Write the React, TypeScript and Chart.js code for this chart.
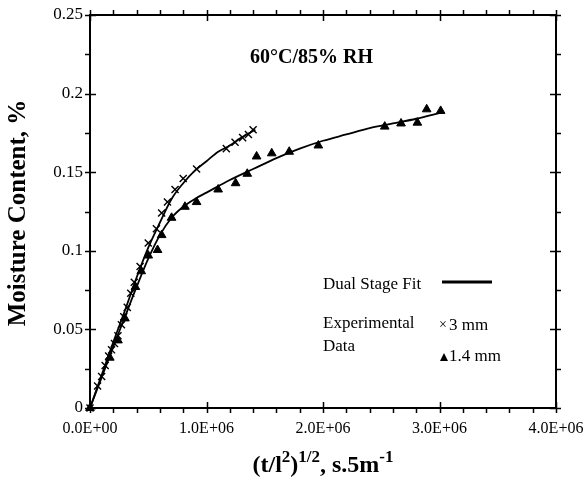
import React, { useEffect, useRef } from 'react';
import { Chart, registerables } from 'chart.js';

Chart.register(...registerables);

// ---- data ----
const xTickValues = [0, 1e6, 2e6, 3e6, 4e6];
const yTickValues = [0, 0.05, 0.1, 0.15, 0.2, 0.25];

const exp3mmX = [0, 0.065e6, 0.1e6, 0.13e6, 0.16e6, 0.185e6, 0.21e6, 0.24e6, 0.27e6, 0.29e6, 0.32e6, 0.35e6, 0.38e6, 0.43e6, 0.5e6, 0.57e6, 0.615e6, 0.665e6, 0.73e6, 0.8e6, 0.915e6, 1.17e6, 1.245e6, 1.31e6, 1.36e6, 1.4e6];
const exp3mmY = [0, 0.014, 0.02, 0.027, 0.033, 0.037, 0.041, 0.046, 0.053, 0.058, 0.064, 0.073, 0.08, 0.09, 0.105, 0.114, 0.124, 0.131, 0.139, 0.146, 0.152, 0.165, 0.169, 0.172, 0.174, 0.177];

const exp14mmX = [0, 0.17e6, 0.24e6, 0.3e6, 0.39e6, 0.44e6, 0.5e6, 0.58e6, 0.615e6, 0.7e6, 0.815e6, 0.915e6, 1.1e6, 1.25e6, 1.35e6, 1.43e6, 1.56e6, 1.71e6, 1.96e6, 2.53e6, 2.67e6, 2.81e6, 2.89e6, 3.01e6];
const exp14mmY = [0, 0.032, 0.043, 0.057, 0.077, 0.087, 0.097, 0.1005, 0.11, 0.121, 0.128, 0.131, 0.139, 0.143, 0.149, 0.16, 0.162, 0.163, 0.167, 0.179, 0.181, 0.1815, 0.19, 0.189];

const fit3mmX = [0, 0.1e6, 0.2e6, 0.3e6, 0.4e6, 0.5e6, 0.6e6, 0.7e6, 0.8e6, 0.9e6, 1.0e6, 1.1e6, 1.2e6, 1.3e6, 1.42e6];
const fit3mmY = [0, 0.021, 0.042, 0.062, 0.083, 0.102, 0.118, 0.133, 0.143, 0.151, 0.157, 0.163, 0.167, 0.172, 0.177];

const fit14mmX = [0, 0.1e6, 0.2e6, 0.3e6, 0.4e6, 0.5e6, 0.6e6, 0.7e6, 0.8e6, 0.9e6, 1.0e6, 1.2e6, 1.4e6, 1.6e6, 1.8e6, 2.0e6, 2.2e6, 2.4e6, 2.6e6, 2.8e6, 3.02e6];
const fit14mmY = [0, 0.0195, 0.039, 0.058, 0.077, 0.095, 0.11, 0.121, 0.128, 0.133, 0.137, 0.145, 0.152, 0.159, 0.165, 0.17, 0.174, 0.178, 0.181, 0.184, 0.188];

const chartLabel = '60°C/85% RH';
const legendFit = 'Dual Stage Fit';
const legendExp = ['Experimental', 'Data'];
const series3mm = '3 mm';
const series14mm = '1.4 mm';
const yTitle = 'Moisture Content, %';

const FONT = '"Liberation Serif", "Times New Roman", serif';

const pts = (xs: number[], ys: number[]) => xs.map((x, i) => ({ x, y: ys[i] }));

const fmtExp = (v: number) => {
  const [m, e] = v.toExponential(1).split('e');
  const sign = e[0] === '-' ? '-' : '+';
  const d = e.replace('+', '').replace('-', '').padStart(2, '0');
  return `${m}E${sign}${d}`;
};

const decor = {
  id: 'decor',
  afterDraw(chart: any) {
    const ctx: CanvasRenderingContext2D = chart.ctx;
    const { left, right, top, bottom } = chart.chartArea;
    const xs = chart.scales.x;
    const ys = chart.scales.y;
    ctx.save();
    ctx.strokeStyle = '#000';
    ctx.fillStyle = '#000';
    ctx.lineWidth = 2;
    ctx.strokeRect(left, top, right - left, bottom - top);
    ctx.lineWidth = 1.5;
    ctx.beginPath();
    for (let i = 0; i <= 20; i++) {
      const px = Math.round(xs.getPixelForValue(i * 0.2e6)) + 0.5;
      const major = i % 5 === 0;
      ctx.moveTo(px, major ? bottom - 6 : bottom);
      ctx.lineTo(px, bottom + 5);
      ctx.moveTo(px, top - 5);
      ctx.lineTo(px, major ? top + 6 : top);
    }
    for (let i = 0; i <= 10; i++) {
      const py = Math.round(ys.getPixelForValue(i * 0.025)) + 0.5;
      const major = i % 2 === 0;
      ctx.moveTo(left - 5, py);
      ctx.lineTo(major ? left + 6 : left, py);
      ctx.moveTo(major ? right - 6 : right, py);
      ctx.lineTo(right + 5, py);
    }
    ctx.stroke();

    // annotation
    ctx.textBaseline = 'middle';
    ctx.textAlign = 'left';
    ctx.font = `bold 20px ${FONT}`;
    ctx.fillText(chartLabel, 250, 58);

    // legend
    ctx.font = `17px ${FONT}`;
    ctx.fillText(legendFit, 323, 285);
    ctx.fillText(legendExp[0], 323, 324);
    ctx.fillText(legendExp[1], 323, 347);
    ctx.lineWidth = 3;
    ctx.beginPath();
    ctx.moveTo(442, 282);
    ctx.lineTo(492, 282);
    ctx.stroke();
    ctx.fillText(series3mm, 449, 326);
    ctx.fillText(series14mm, 449, 357);
    ctx.font = `14px ${FONT}`;
    ctx.fillText('×', 439, 325);
    ctx.beginPath();
    ctx.moveTo(440, 361);
    ctx.lineTo(448, 361);
    ctx.lineTo(444, 353);
    ctx.closePath();
    ctx.fill();

    // y title
    ctx.save();
    ctx.translate(19, 213);
    ctx.rotate(-Math.PI / 2);
    ctx.textAlign = 'center';
    ctx.font = `bold 25px ${FONT}`;
    ctx.fillText(yTitle, 0, 0);
    ctx.restore();

    // x title with superscripts
    const f = 24;
    const sf = Math.round(f * 0.7);
    const segs = [
      { t: '(t/l', sup: false },
      { t: '2', sup: true },
      { t: ')', sup: false },
      { t: '1/2', sup: true },
      { t: ', s.5m', sup: false },
      { t: '-1', sup: true },
    ];
    ctx.textBaseline = 'alphabetic';
    ctx.textAlign = 'left';
    let total = 0;
    const widths = segs.map((s) => {
      ctx.font = `bold ${s.sup ? sf : f}px ${FONT}`;
      const w = ctx.measureText(s.t).width;
      total += w;
      return w;
    });
    let cx = (left + right) / 2 - total / 2;
    const base = 472;
    segs.forEach((s, i) => {
      ctx.font = `bold ${s.sup ? sf : f}px ${FONT}`;
      ctx.fillText(s.t, cx, s.sup ? base - f * 0.4 : base);
      cx += widths[i];
    });
    ctx.restore();
  },
};

export default function App() {
  const ref = useRef<HTMLCanvasElement | null>(null);
  useEffect(() => {
    if (!ref.current) return;
    Chart.defaults.font.family = FONT;
    Chart.defaults.color = '#000';
    const chart = new Chart(ref.current, {
      type: 'scatter',
      data: {
        datasets: [
          {
            label: 'fit 3 mm',
            data: pts(fit3mmX, fit3mmY),
            showLine: true,
            borderColor: '#000',
            borderWidth: 1.8,
            pointRadius: 0,
            cubicInterpolationMode: 'monotone',
            clip: false as any,
          },
          {
            label: 'fit 1.4 mm',
            data: pts(fit14mmX, fit14mmY),
            showLine: true,
            borderColor: '#000',
            borderWidth: 1.8,
            pointRadius: 0,
            cubicInterpolationMode: 'monotone',
            clip: false as any,
          },
          {
            label: series3mm,
            data: pts(exp3mmX, exp3mmY),
            showLine: false,
            pointStyle: 'crossRot',
            pointRadius: 5,
            borderColor: '#000',
            borderWidth: 1.4,
            backgroundColor: '#000',
            clip: false as any,
          },
          {
            label: series14mm,
            data: pts(exp14mmX, exp14mmY),
            showLine: false,
            pointStyle: 'triangle',
            pointRadius: 5,
            borderColor: '#000',
            borderWidth: 1,
            backgroundColor: '#000',
            clip: false as any,
          },
        ],
      } as any,
      options: {
        animation: false,
        responsive: false,
        devicePixelRatio: 1,
        layout: { padding: { left: 0, right: 30, top: 15, bottom: 0 } },
        plugins: { legend: { display: false }, tooltip: { enabled: false } },
        scales: {
          x: {
            type: 'linear',
            min: 0,
            max: 4e6,
            grid: { display: false, drawTicks: false },
            border: { display: false },
            afterBuildTicks: (s: any) => {
              s.ticks = xTickValues.map((v) => ({ value: v }));
            },
            afterFit: (s: any) => {
              s.height = 71;
              s.paddingLeft = 0;
              s.paddingRight = 0;
            },
            ticks: {
              padding: 11,
              maxRotation: 0,
              font: { size: 16, family: FONT },
              color: '#000',
              callback: (v: any) => fmtExp(Number(v)),
            },
          },
          y: {
            type: 'linear',
            min: 0,
            max: 0.25,
            grid: { display: false, drawTicks: false },
            border: { display: false },
            afterBuildTicks: (s: any) => {
              s.ticks = yTickValues.map((v) => ({ value: v }));
            },
            afterFit: (s: any) => {
              s.width = 90;
              s.paddingTop = 0;
              s.paddingBottom = 0;
            },
            ticks: {
              padding: 7,
              font: { size: 17, family: FONT },
              color: '#000',
              callback: (v: any) => String(Number(Number(v).toFixed(3))),
            },
          },
        },
      } as any,
      plugins: [decor],
    });
    return () => chart.destroy();
  }, []);
  return (
    <div style={{ position: 'absolute', left: 0, top: 0, width: 586, height: 479, background: '#fff' }}>
      <canvas ref={ref} width={586} height={479} style={{ display: 'block' }} />
    </div>
  );
}
